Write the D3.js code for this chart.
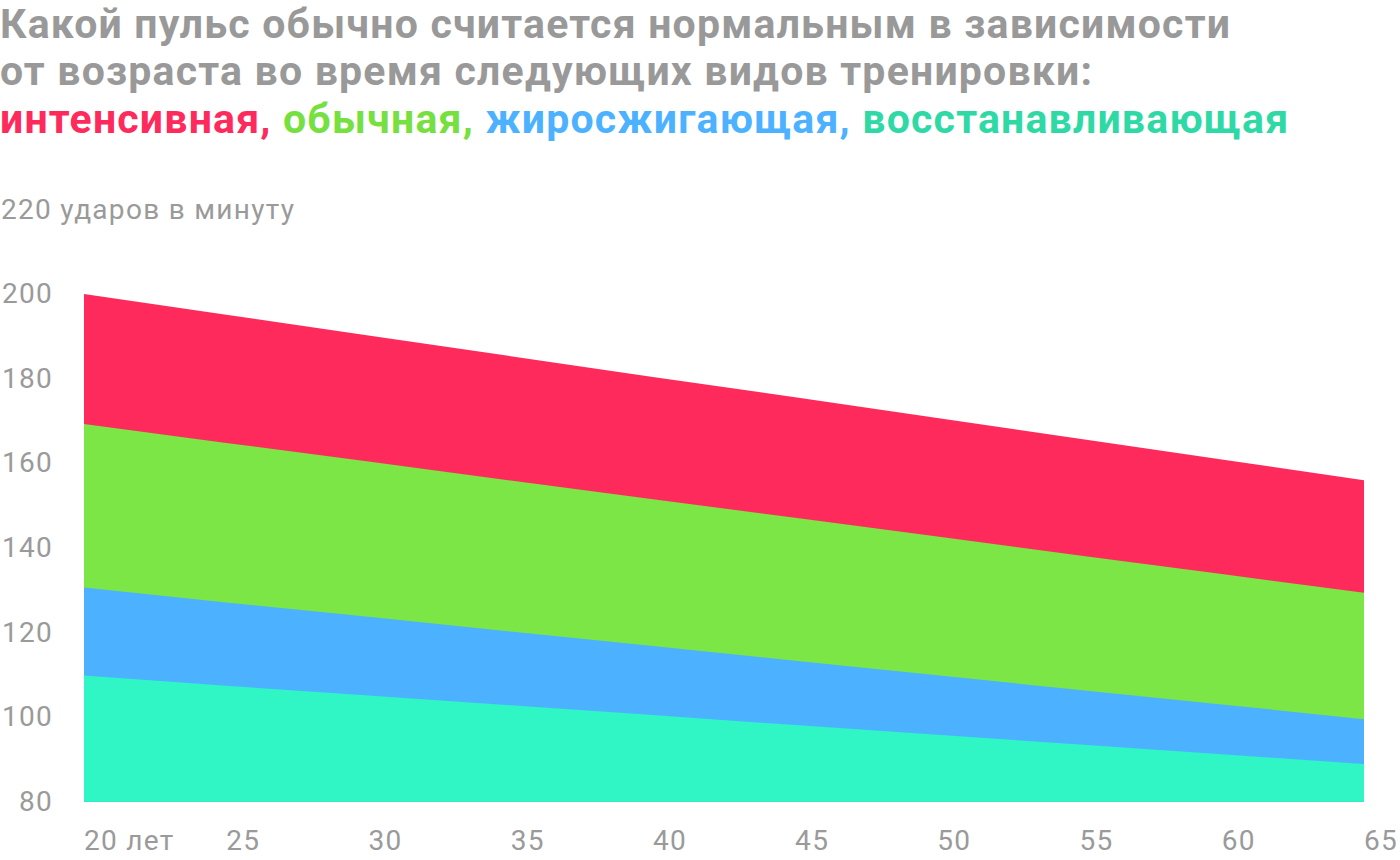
<!DOCTYPE html>
<html><head><meta charset="utf-8">
<script src="https://cdn.jsdelivr.net/npm/d3@7"></script>
<style>
html,body{margin:0;padding:0;background:#fff;}
svg{display:block;font-family:Roboto,"Noto Sans",sans-serif;}
</style></head>
<body><svg id="c" width="1400" height="860"></svg>
<script>
const ages = [20,25,30,35,40,45,50,55,60,65];
const intensive = [200,195.1,190.2,185.3,180.4,175.6,170.7,165.8,160.9,156];
const normal    = [169.3,164.8,160.4,155.9,151.5,147.1,142.7,138.2,133.8,129.4];
const fatburn   = [130.6,127.1,123.7,120.2,116.8,113.3,109.9,106.4,103,99.5];
const recovery  = [109.8,107.4,105.1,102.8,100.5,98.1,95.8,93.5,91.2,88.9];
const seriesNames = ["интенсивная","обычная","жиросжигающая","восстанавливающая"];
const fillColors = ["#ff2a5c","#7be646","#4cb2ff","#30f5c5"];
const textColors = ["#ff2a5c","#76e040","#4cb2ff","#2ed9a6"];
const yTicks = [80,100,120,140,160,180,200,220];
const xTicks = [20,25,30,35,40,45,50,55,60,65];
const titleLines = ["Какой пульс обычно считается нормальным в зависимости","от возраста во время следующих видов тренировки:"];

const svg = d3.select("#c");
const x = d3.scaleLinear().domain([20,65]).range([84,1364]);
const y = d3.scaleLinear().domain([80,200]).range([801.7,294]);

// title
const tg = svg.append("g");
titleLines.forEach((t,i)=>{
  tg.append("text").attr("x",0).attr("y",37.5+i*47.5).attr("font-size",41).attr("font-weight",700)
    .attr("letter-spacing",1.2).attr("fill","#999").text(t);
});
const t3 = tg.append("text").attr("x",0).attr("y",132.5).attr("font-size",41).attr("font-weight",700)
  .attr("letter-spacing",1.2);
seriesNames.forEach((n,i)=>{
  t3.append("tspan").attr("fill",textColors[i]).text(n + (i<seriesNames.length-1?", ":""));
});

// areas
const all = [intensive,normal,fatburn,recovery];
const area = d3.area().x((d,i)=>x(ages[i])).y0(y(80)).y1(d=>y(d));
all.forEach((s,i)=>{
  svg.append("path").datum(s).attr("d",area).attr("fill",fillColors[i]);
});

// y axis
const ya = svg.append("g");
yTicks.forEach(v=>{
  const t = ya.append("text").attr("x",53).attr("y",y(v)).attr("dy","0.33em")
    .attr("text-anchor","end").attr("font-size",28).attr("letter-spacing",1.3).attr("fill","#9a9a9a").text(v);
  if(v===220){
    t.attr("text-anchor","start").attr("x",1).text(v+" ударов в минуту");
  }
});

// x axis
const xa = svg.append("g");
xTicks.forEach(v=>{
  xa.append("text").attr("x",x(v)).attr("y",850).attr("font-size",28).attr("letter-spacing",1.3).attr("fill","#9a9a9a")
    .text(v===20 ? "20 лет" : v);
});
</script></body></html>
